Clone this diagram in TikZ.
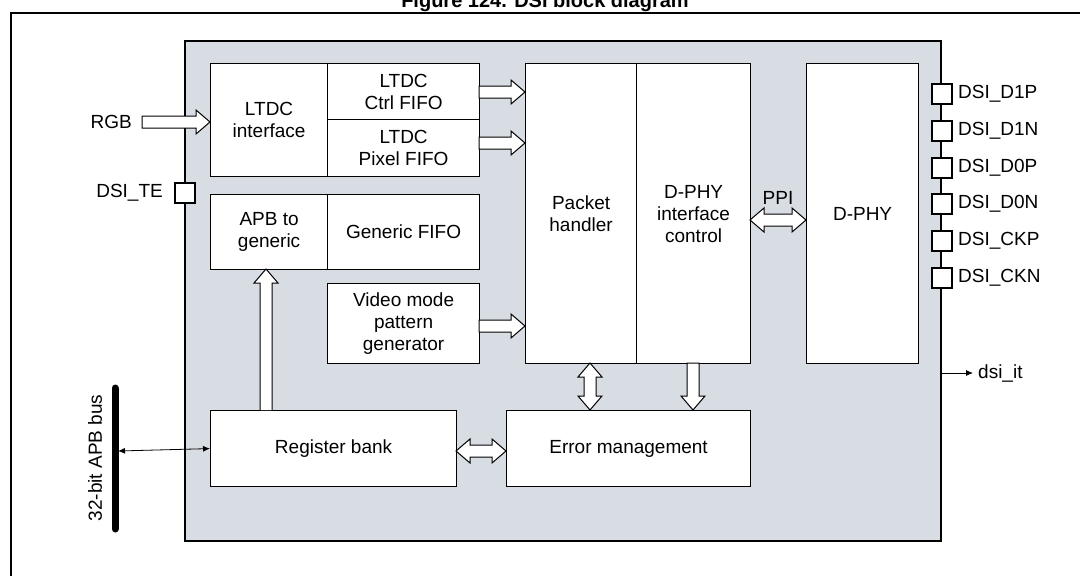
\documentclass[tikz,border=0pt]{standalone}
\usepackage{fontspec}
\setmainfont{Liberation Sans}
\usetikzlibrary{arrows.meta}
\begin{document}
\begin{tikzpicture}[x=1pt,y=-1pt,
  blk/.style={draw,line width=1.2pt,fill=white,align=center,font=\fontsize{19}{22}\selectfont,inner sep=0pt},
  pin/.style={draw,line width=1.2pt,fill=white,minimum width=20pt,minimum height=20pt,inner sep=0pt},
  lbl/.style={font=\fontsize{19}{22}\selectfont,inner sep=0pt},
  ba/.style={draw,line width=1pt,fill=white}]
\useasboundingbox (0,0) rectangle (1080,576);
\node[font=\bfseries\fontsize{20}{22}\selectfont,anchor=base] (title) at (545,7) {Figure 124. DSI block diagram};
\draw[line width=1.2pt] (1080,13) -- (11,13) -- (11,576);
\draw[line width=1.6pt,fill={rgb,255:red,216;green,220;blue,227}] (185,41) rectangle (941,541);
% blocks
\node[blk,minimum width=117pt,minimum height=113pt,anchor=north west] (ltdci) at (210,63) {LTDC\\interface};
\node[blk,minimum width=152pt,minimum height=56pt,anchor=north west] (ctrl) at (327,63) {LTDC\\Ctrl FIFO};
\node[blk,minimum width=152pt,minimum height=57pt,anchor=north west] (pix) at (327,119) {LTDC\\Pixel FIFO};
\node[blk,minimum width=117pt,minimum height=75pt,anchor=north west] (apb) at (210,194) {APB to\\generic};
\node[blk,minimum width=152pt,minimum height=75pt,anchor=north west] (gen) at (327,194) {Generic FIFO};
\node[blk,minimum width=152pt,minimum height=80pt,anchor=north west] (vid) at (327,283) {Video mode\\pattern\\generator};
\node[blk,minimum width=111pt,minimum height=300pt,anchor=north west] (pkt) at (525,63) {Packet\\handler};
\node[blk,minimum width=114pt,minimum height=300pt,anchor=north west] (dctl) at (636,63) {D-PHY\\interface\\control};
\node[blk,minimum width=112pt,minimum height=300pt,anchor=north west] (dphy) at (806,63) {D-PHY};
\node[blk,minimum width=246pt,minimum height=76pt,anchor=north west] (reg) at (210,410) {Register bank};
\node[blk,minimum width=244pt,minimum height=76pt,anchor=north west] (err) at (506,410) {Error management};
% pins
\foreach \n/\y in {DSI\_D1P/94,DSI\_D1N/131,DSI\_D0P/168,DSI\_D0N/204,DSI\_CKP/241,DSI\_CKN/278}{
  \node[pin] (p\y) at (942,\y) {};
  \node[lbl,anchor=west] (t\y) at (958,\y) {\n};
}
\node[pin] (te) at (185,193) {};
\node[lbl,anchor=east] (tet) at (163,193) {DSI\_TE};
% block arrows right
\foreach \xa/\xb/\y in {142/210/122, 479/525/92, 479/525/143, 479/525/326}{
  \draw[ba] (\xa,\y-6) -- (\xb-14,\y-6) -- (\xb-14,\y-12) -- (\xb,\y) -- (\xb-14,\y+12) -- (\xb-14,\y+6) -- (\xa,\y+6) -- cycle;
}
\node[lbl,anchor=east] (rgb) at (132,122) {RGB};
% horizontal double arrows
\foreach \xa/\xb/\y in {750/806/220, 456/506/451}{
  \draw[ba] (\xa,\y) -- (\xa+14,\y-12) -- (\xa+14,\y-6) -- (\xb-14,\y-6) -- (\xb-14,\y-12) -- (\xb,\y) -- (\xb-14,\y+12) -- (\xb-14,\y+6) -- (\xa+14,\y+6) -- (\xa+14,\y+12) -- cycle;
}
\node[lbl] (ppi) at (778,198) {PPI};
% vertical double arrow packet<->error
\draw[ba] (590,363) -- (602,377) -- (596,377) -- (596,396) -- (602,396) -- (590,410) -- (578,396) -- (584,396) -- (584,377) -- (578,377) -- cycle;
% down arrow dctl->err
\draw[ba] (687,363) -- (699,363) -- (699,396) -- (705,396) -- (693,410) -- (681,396) -- (687,396) -- cycle;
% up arrow reg->apb
\draw[ba] (260,410) -- (260,283) -- (254,283) -- (266,269) -- (278,283) -- (272,283) -- (272,410);
% bus
\draw[line width=7pt,line cap=round] (115,388) -- (115,529);
\coordinate (busp) at (118,451);
\draw[line width=0.8pt,{Latex[length=7pt,width=6pt]}-{Latex[length=7pt,width=6pt]}] (busp) -- (reg.west);
\node[lbl,rotate=90] (bus) at (95,458) {32-bit APB bus};
% dsi_it
\coordinate (itp) at (942,373);
\node[lbl,anchor=west] (it) at (978,373) {dsi\_it};
\draw[line width=0.8pt,-{Latex[length=7pt,width=6pt]}] (itp) -- (973,373);
\end{tikzpicture}
\end{document}
